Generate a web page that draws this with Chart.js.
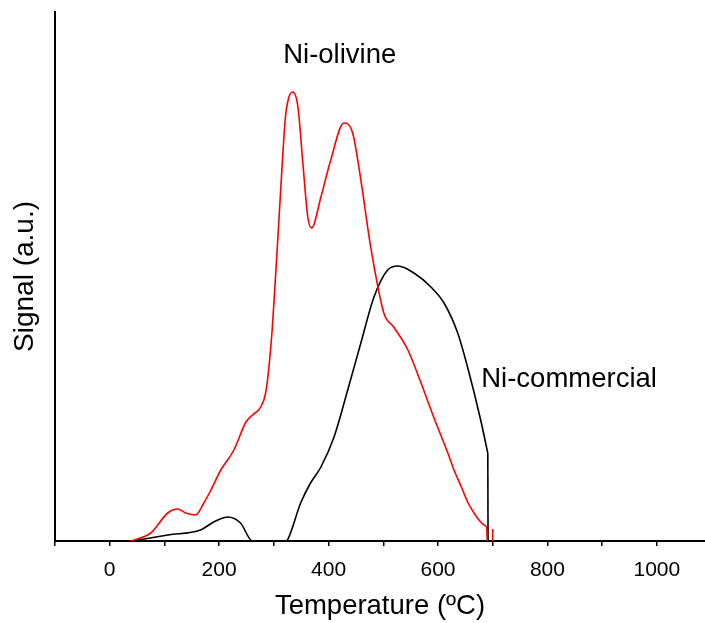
<!DOCTYPE html>
<html>
<head>
<meta charset="utf-8">
<script src="https://cdn.jsdelivr.net/npm/chart.js@4/dist/chart.umd.min.js"></script>
<style>
  body { margin: 0; background: #fff; }
</style>
</head>
<body>
<canvas id="tprChart" width="705" height="623"></canvas>
<script>
// Temperatures (ºC) and signal (a.u.)
const oliTemp = [38, 75, 106, 124, 139, 157, 172, 185, 203, 227, 249, 261, 276, 285, 291, 297, 302, 307, 314, 321, 327, 335, 344, 353, 362, 369, 386, 404, 428, 444, 459, 477, 501, 519, 545, 569, 592, 605, 618, 630, 642, 655, 667, 678, 689];
const oliSignal = [0, 8, 28, 32, 28, 26, 38, 51, 71, 91, 119, 126, 134, 148, 174, 212, 255, 300, 365, 423, 443, 449, 434, 378, 324, 313, 344, 381, 418, 408, 361, 294, 228, 214, 191, 158, 124, 106, 88, 70, 55, 38, 27, 19, 14];
// sharp drop at the end of the run and the short mark at 700 ºC
const oliDropTemp = [689, 690];
const oliDropSignal = [14, 0];
const oliMarkTemp = [700, 700];
const oliMarkSignal = [0, 12];

const comTemp = [42, 106, 166, 190, 216, 239, 261, 322, 325, 349, 367, 386, 410, 435, 459, 483, 508, 527, 556, 587, 611, 636, 654, 678, 691];
const comSignal = [0, 6, 11, 19, 24, 18, 0, 0, 1, 38, 58, 74, 104, 151, 198, 244, 271, 275, 268, 254, 238, 208, 174, 121, 88];
const comDropTemp = [691, 691.5];
const comDropSignal = [88, 0];

const xTicks = [0, 200, 400, 600, 800, 1000];

// curve labels placed in data coordinates
const labelTexts = ['Ni-olivine', 'Ni-commercial'];
const labelX = [317, 679];
const labelY = [478, 154];

const FONT = '"Liberation Sans", Arial, sans-serif';

const toPoints = (xs, ys) => xs.map((x, i) => ({ x: x, y: ys[i] }));

const curveLabels = {
    id: 'curveLabels',
    afterDatasetsDraw(chart) {
        const { ctx, scales: { x, y } } = chart;
        ctx.save();
        ctx.font = '27.5px ' + FONT;
        ctx.fillStyle = '#000';
        ctx.textBaseline = 'alphabetic';
        labelTexts.forEach((t, i) => {
            ctx.fillText(t, x.getPixelForValue(labelX[i]), y.getPixelForValue(labelY[i]));
        });
        ctx.restore();
    }
};

const curve = (data, color, smooth) => ({
    data: data,
    borderColor: color,
    borderWidth: 1.6,
    pointRadius: 0,
    tension: 0,
    cubicInterpolationMode: smooth ? 'monotone' : 'default'
});

const ctx = document.getElementById('tprChart').getContext('2d');

new Chart(ctx, {
    type: 'line',
    data: {
        datasets: [
            curve(toPoints(oliTemp, oliSignal), '#ff0000', true),
            curve(toPoints(oliDropTemp, oliDropSignal), '#ff0000', false),
            curve(toPoints(oliMarkTemp, oliMarkSignal), '#ff0000', false),
            curve(toPoints(comTemp, comSignal), '#000000', true),
            curve(toPoints(comDropTemp, comDropSignal), '#000000', false)
        ]
    },
    options: {
        responsive: false,
        animation: false,
        layout: { padding: { top: 12, right: 0, left: 0, bottom: 0 } },
        plugins: { legend: { display: false }, tooltip: { enabled: false } },
        scales: {
            x: {
                type: 'linear',
                min: -100,
                max: 1088,
                afterFit(scale) { scale.height = 82; },
                grid: { drawOnChartArea: false, drawTicks: true, tickLength: 5, color: '#000', lineWidth: 1.5 },
                border: { display: true, color: '#000', width: 2 },
                ticks: {
                    stepSize: 100,
                    includeBounds: false,
                    autoSkip: false,
                    maxRotation: 0,
                    padding: 12,
                    color: '#000',
                    font: { family: FONT, size: 21 },
                    callback: v => xTicks.includes(v) ? String(v) : ''
                },
                title: {
                    display: true,
                    text: 'Temperature (ºC)',
                    color: '#000',
                    padding: { top: 0, bottom: 0 },
                    font: { family: FONT, size: 27.5 }
                }
            },
            y: {
                min: 0,
                max: 529,
                afterFit(scale) { scale.width = 55; },
                grid: { display: false },
                border: { display: true, color: '#000', width: 2 },
                ticks: { display: false },
                title: {
                    display: true,
                    text: 'Signal (a.u.)',
                    color: '#000',
                    padding: { top: 8, bottom: 0 },
                    font: { family: FONT, size: 28 }
                }
            }
        }
    },
    plugins: [curveLabels]
});
</script>
</body>
</html>
